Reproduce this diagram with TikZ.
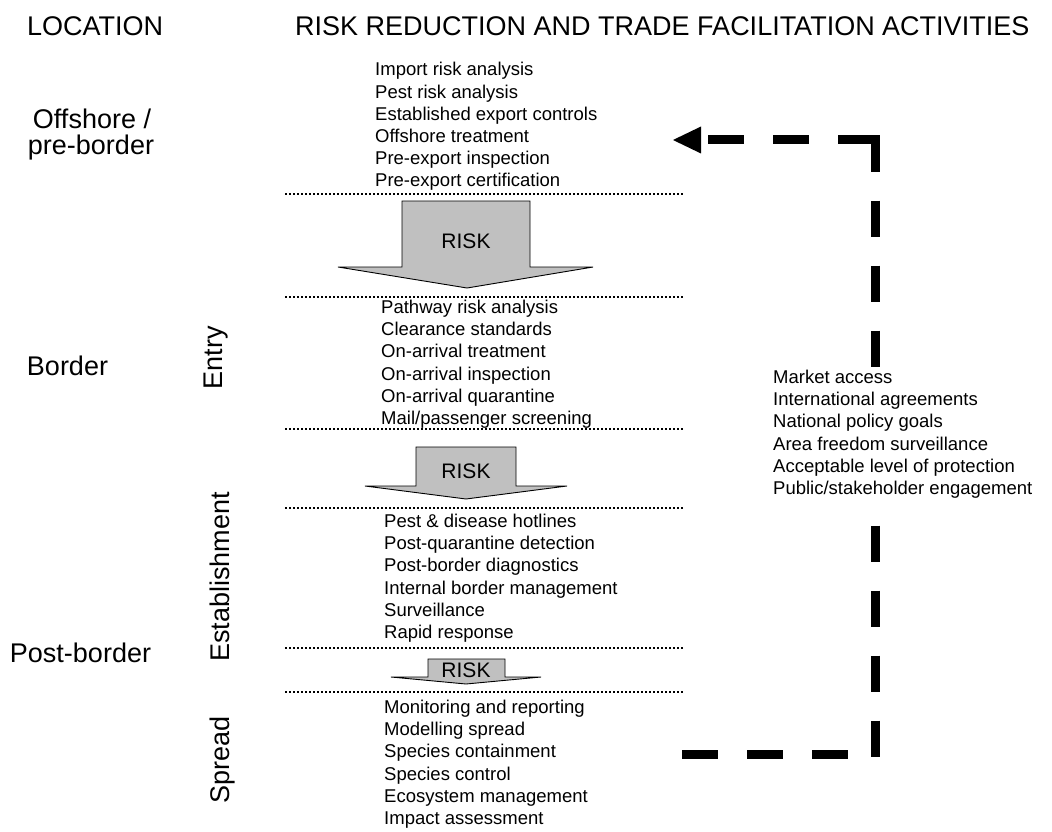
\documentclass[tikz,border=0pt]{standalone}
\usepackage{fontspec}
\setmainfont{Liberation Sans}
\usetikzlibrary{arrows.meta}

\definecolor{riskgray}{RGB}{192,192,192}

\tikzset{
  listtext/.style={anchor=north west, inner sep=0pt, align=left, font=\fontsize{18.5}{22.2}\selectfont},
  bigtext/.style={anchor=base, inner sep=0pt, font=\fontsize{27}{27}\selectfont},
  risktext/.style={anchor=base, inner sep=0pt, font=\fontsize{21}{21}\selectfont},
  riskarrow/.style={fill=riskgray, draw=black, line width=0.9pt},
  sepline/.style={line width=1.5pt, dash pattern=on 1.5pt off 2.5pt},
  fbline/.style={line width=9pt, dash pattern=on 36pt off 29pt}
}

\begin{document}
\begin{tikzpicture}[x=1pt,y=-1pt]
\useasboundingbox (0,0) rectangle (1052,832);

% Column headings
\node[bigtext,anchor=base west] (lochead) at (27,36) {LOCATION};
\node[bigtext,anchor=base west] (acthead) at (295,36) {RISK REDUCTION AND TRADE FACILITATION ACTIVITIES};

% Locations
\node[bigtext] (offshore) at (92,128.5) {Offshore /};
\node[bigtext] (preborder) at (91,154) {pre-border};
\node[bigtext] (border) at (67.5,375) {Border};
\node[bigtext] (postborder) at (80.5,662) {Post-border};

% Stages (rotated)
\node[bigtext,rotate=90] (entry) at (222,358) {Entry};
\node[bigtext,rotate=90] (establish) at (229,577) {Establishment};
\node[bigtext,rotate=90] (spread) at (229,759.5) {Spread};

% Separators
\draw[sepline] (285,194) -- (683,194);
\draw[sepline] (285,297) -- (683,297);
\draw[sepline] (285,429) -- (683,429);
\draw[sepline] (285,508) -- (683,508);
\draw[sepline] (285,648) -- (683,648);
\draw[sepline] (285,692) -- (683,692);

% Activities per stage
\node[listtext] (offact) at (375,62.3) {Import risk analysis\\Pest risk analysis\\Established export controls\\Offshore treatment\\Pre-export inspection\\Pre-export certification};
\node[listtext] (entryact) at (381,299.8) {Pathway risk analysis\\Clearance standards\\On-arrival treatment\\On-arrival inspection\\On-arrival quarantine\\Mail/passenger screening};
\node[listtext] (estact) at (384,513.8) {Pest \& disease hotlines\\Post-quarantine detection\\Post-border diagnostics\\Internal border management\\Surveillance\\Rapid response};
\node[listtext] (spreadact) at (384,699.8) {Monitoring and reporting\\Modelling spread\\Species containment\\Species control\\Ecosystem management\\Impact assessment};

% Risk arrows, shrinking downwards
\filldraw[riskarrow] (402,201) -- (530,201) -- (530,267) -- (593,267) -- (467,288) -- (338,267) -- (402,267) -- cycle;
\node[risktext] (risk1) at (466,248) {RISK};
\filldraw[riskarrow] (416,447) -- (516,447) -- (516,486) -- (567,486) -- (466,499) -- (365,486) -- (416,486) -- cycle;
\node[risktext] (risk2) at (466,478) {RISK};
\filldraw[riskarrow] (428,659) -- (505,659) -- (505,677) -- (541,677) -- (466,684) -- (391,677) -- (428,677) -- cycle;
\node[risktext] (risk3) at (466,677) {RISK};

% Feedback loop
\coordinate (fbstart) at (682,754);
\coordinate (fbhigh) at (875,135.5);
\coordinate (fblow) at (875,758.5);
\coordinate (fbtip) at (673,140);
\coordinate (fbturn) at (879.5,140);
\draw[fbline] (fbstart) -- (fbstart -| fbhigh);
\draw[fbline] (fbhigh) -- (fblow);
\draw[fbline,dash phase=58pt,{Triangle[length=28pt,width=27pt,line width=0pt]}-] (fbtip) -- (fbturn);

% Drivers on the loop
\node[listtext,fill=white,inner ysep=2pt] (drivers) at (773,367.8) {Market access\\International agreements\\National policy goals\\Area freedom surveillance\\Acceptable level of protection\\Public/stakeholder engagement};
\end{tikzpicture}
\end{document}
